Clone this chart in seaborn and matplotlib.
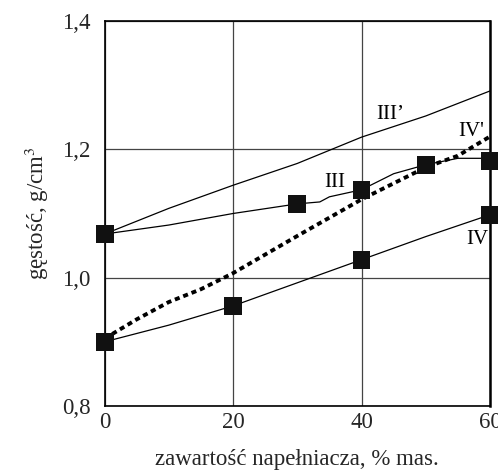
import matplotlib
matplotlib.use("Agg")
import matplotlib.pyplot as plt
import seaborn as sns
import pandas as pd

# Series data (filler content in % mass vs density g/cm3)
x_III_line = [0, 10, 20, 30, 33.5, 35, 40, 45, 50, 55, 60]
y_III_line = [1.068, 1.082, 1.100, 1.115, 1.118, 1.126, 1.137, 1.162, 1.176, 1.186, 1.186]
x_III_pts = [0, 30, 40, 50, 60]
y_III_pts = [1.068, 1.115, 1.137, 1.176, 1.182]

x_IIIp = [0, 10, 20, 30, 40, 50, 60]
y_IIIp = [1.068, 1.108, 1.144, 1.178, 1.219, 1.252, 1.291]

x_IV_line = [0, 10, 20, 30, 40, 50, 60]
y_IV_line = [0.900, 0.926, 0.956, 0.992, 1.028, 1.064, 1.098]
x_IV_pts = [0, 20, 40, 60]
y_IV_pts = [0.900, 0.956, 1.028, 1.098]

x_IVp = [0, 5, 10, 15, 20, 30, 40, 50, 55, 57, 60]
y_IVp = [0.905, 0.935, 0.962, 0.982, 1.007, 1.065, 1.122, 1.172, 1.190, 1.202, 1.220]

x_ticks = [0, 20, 40, 60]
x_ticklabels = ["0", "20", "40", "60"]
y_ticks = [0.8, 1.0, 1.2, 1.4]
y_ticklabels = ["0,8", "1,0", "1,2", "1,4"]

labels = ["III’", "III", "IV'", "IV"]
label_x = [44.5, 35.8, 57.0, 58.0]
label_y = [1.255, 1.148, 1.228, 1.060]

sns.set_theme(style="white")
plt.rcParams['font.family'] = ['Liberation Serif', 'DejaVu Serif']
plt.rcParams['mathtext.fontset'] = 'stix'

fig = plt.figure(figsize=(4.98, 4.74), dpi=100)
ax = fig.add_axes([0.21, 0.1435, 0.774, 0.8122])

sns.lineplot(x=x_IIIp, y=y_IIIp, ax=ax, color="black", linewidth=0.9, sort=False)
sns.lineplot(x=x_III_line, y=y_III_line, ax=ax, color="black", linewidth=0.9, sort=False)
sns.lineplot(x=x_IV_line, y=y_IV_line, ax=ax, color="black", linewidth=0.9, sort=False)
sns.lineplot(x=x_IVp, y=y_IVp, ax=ax, color="black", linewidth=2.8, sort=False)
ax.lines[-1].set_dashes([1.3, 1.0])

sns.scatterplot(x=x_III_pts, y=y_III_pts, ax=ax, marker="s", s=165, color="#111111",
                edgecolor="none", zorder=5)
sns.scatterplot(x=x_IV_pts, y=y_IV_pts, ax=ax, marker="s", s=165, color="#111111",
                edgecolor="none", zorder=5)
for c in ax.collections:
    c.set_clip_on(False)

for t, lx, ly in zip(labels, label_x, label_y):
    ax.text(lx, ly, t, fontsize=15, ha="center", va="center", color="black")

ax.set_xlim(0, 60)
ax.set_ylim(0.8, 1.4)
ax.set_xticks(x_ticks)
ax.set_xticklabels(x_ticklabels, fontsize=16.5)
ax.set_yticks(y_ticks)
ax.set_yticklabels(y_ticklabels, fontsize=16.5)
ax.tick_params(axis="x", length=0, pad=4)
ax.tick_params(axis="y", length=0, pad=10)
ax.grid(True, color="#444444", linewidth=0.9)
ax.set_axisbelow(True)
for s in ax.spines.values():
    s.set_color("black")
    s.set_linewidth(1.2)
ax.spines["right"].set_linewidth(1.8)

ax.set_xlabel("zawartość napełniacza, % mas.", fontsize=16.5, labelpad=12)
ax.set_ylabel("gęstość, g/cm$^3$", fontsize=16.5, labelpad=8)

fig.savefig("out.png", dpi=100)
